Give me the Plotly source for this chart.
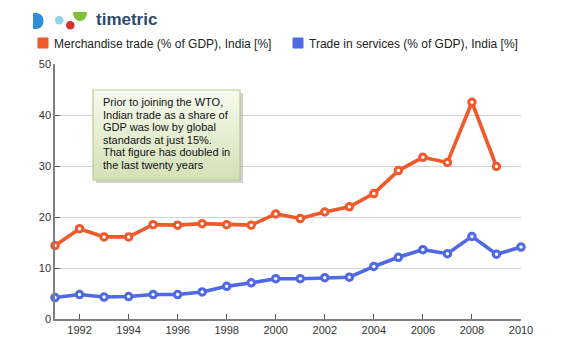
import plotly.graph_objects as go

# India: trade as a share of GDP
years = list(range(1991, 2011))
merchandise = [14.4, 17.7, 16.1, 16.1, 18.5, 18.4, 18.7, 18.5, 18.4, 20.6,
               19.7, 21.0, 22.0, 24.6, 29.1, 31.7, 30.7, 42.5, 29.9, None]
services = [4.2, 4.8, 4.3, 4.4, 4.8, 4.8, 5.3, 6.4, 7.1, 7.9,
            7.9, 8.1, 8.2, 10.3, 12.1, 13.6, 12.8, 16.2, 12.7, 14.1]

series_names = ["Merchandise trade (% of GDP), India [%]",
                "Trade in services (% of GDP), India [%]"]
series_colors = ["#F0592A", "#4F69E6"]

note_lines = ["Prior to joining the WTO,",
              "Indian trade as a share of",
              "GDP was low by global",
              "standards at just 15%.",
              "That figure has doubled in",
              "the last twenty years"]

W, H = 588, 347
L, R, T, B = 55, 67, 64, 28
PW, PH = W - L - R, H - T - B


def px(x):
    return (x - L) / PW


def py(y):
    return (H - B - y) / PH


FONT = "Liberation Sans, Arial, sans-serif"

fig = go.Figure()
for vals, color in zip([merchandise, services], series_colors):
    fig.add_trace(go.Scatter(
        x=years, y=vals, mode="lines+markers", cliponaxis=False,
        line=dict(color=color, width=3.6),
        marker=dict(symbol="circle", size=6.5, color="white",
                    line=dict(color=color, width=3)),
        showlegend=False, hoverinfo="x+y"))

shapes = []
annotations = []

# legend swatches and labels
legend_x = [38, 293]
for name, color, lx in zip(series_names, series_colors, legend_x):
    shapes.append(dict(type="rect", xref="paper", yref="paper",
                       x0=px(lx), x1=px(lx + 10), y0=py(48), y1=py(38),
                       fillcolor=color, line=dict(color=color, width=1)))
    annotations.append(dict(xref="paper", yref="paper", x=px(lx + 14), y=py(43.5),
                            xanchor="left", yanchor="middle", showarrow=False,
                            text=name, font=dict(family=FONT, size=12, color="#222")))

# logo marks
shapes.append(dict(type="path", xref="paper", yref="paper",
                   path=(f"M {px(33)},{py(13)} L {px(36)},{py(13)} "
                         f"C {px(46)},{py(13)} {px(46)},{py(29)} {px(36)},{py(29)} "
                         f"L {px(33)},{py(29)} Z"),
                   fillcolor="#2E8FD8", line=dict(width=0)))
shapes.append(dict(type="circle", xref="paper", yref="paper",
                   x0=px(55), x1=px(63.5), y0=py(24.5), y1=py(16),
                   fillcolor="#8ED3E8", line=dict(width=0)))
shapes.append(dict(type="circle", xref="paper", yref="paper",
                   x0=px(66), x1=px(74.5), y0=py(29.5), y1=py(21),
                   fillcolor="#D8302A", line=dict(width=0)))
shapes.append(dict(type="path", xref="paper", yref="paper",
                   path=(f"M {px(73)},{py(12)} C {px(73)},{py(24)} {px(87)},{py(24)} "
                         f"{px(87)},{py(12)} Z"),
                   fillcolor="#7DBE3A", line=dict(width=0)))
annotations.append(dict(xref="paper", yref="paper", x=px(94), y=py(20),
                        xanchor="left", yanchor="middle", showarrow=False,
                        text="<b>timetric</b>",
                        font=dict(family=FONT, size=17, color="#2C4A70")))

# note box: shadow, gradient fill, border
bx0, bx1, by0, by1 = 93, 240, 90, 180
shapes.append(dict(type="rect", xref="paper", yref="paper",
                   x0=px(bx0 + 3), x1=px(bx1 + 3), y0=py(by1 + 3), y1=py(by0 + 3),
                   fillcolor="rgba(120,120,120,0.35)", line=dict(width=0)))
steps = 30
top_rgb, bot_rgb = (247, 250, 238), (212, 225, 183)
for i in range(steps):
    f = i / (steps - 1)
    c = tuple(round(a + (b - a) * f) for a, b in zip(top_rgb, bot_rgb))
    y0 = by0 + (by1 - by0) * i / steps
    y1 = by0 + (by1 - by0) * (i + 1) / steps
    shapes.append(dict(type="rect", xref="paper", yref="paper",
                       x0=px(bx0), x1=px(bx1), y0=py(y1 + 0.5), y1=py(y0),
                       fillcolor="rgb(%d,%d,%d)" % c, line=dict(width=0)))
shapes.append(dict(type="rect", xref="paper", yref="paper",
                   x0=px(bx0), x1=px(bx1), y0=py(by1), y1=py(by0),
                   fillcolor="rgba(0,0,0,0)", line=dict(color="#B7CB8E", width=1.2)))

line_y = [102, 114.5, 127, 139.5, 152, 164.5]
for text, ly in zip(note_lines, line_y):
    annotations.append(dict(xref="paper", yref="paper", x=px(101), y=py(ly),
                            xanchor="left", yanchor="middle", showarrow=False,
                            text=text, font=dict(family=FONT, size=11, color="#111")))

fig.update_layout(
    width=W, height=H,
    margin=dict(l=L, r=R, t=T, b=B, autoexpand=False),
    paper_bgcolor="white", plot_bgcolor="white",
    font=dict(family=FONT, size=11, color="#333"),
    shapes=shapes, annotations=annotations,
    xaxis=dict(range=[1991, 2010], tickmode="array",
               tickvals=list(range(1992, 2011, 2)),
               ticktext=[str(v) for v in range(1992, 2011, 2)],
               ticks="inside", ticklen=5, tickcolor="#555", tickwidth=1,
               showgrid=False, zeroline=False,
               showline=True, linecolor="#808080", linewidth=1.5,
               tickfont=dict(size=11, color="#333")),
    yaxis=dict(range=[0, 50], dtick=10, ticks="inside", ticklen=5,
               tickcolor="#555", tickwidth=1,
               showgrid=True, gridcolor="#D4D4D4", gridwidth=1,
               zeroline=False, showline=True, linecolor="#808080", linewidth=1.5,
               tickfont=dict(size=11, color="#333")),
    hovermode="closest",
)

fig.write_html("out.html")
